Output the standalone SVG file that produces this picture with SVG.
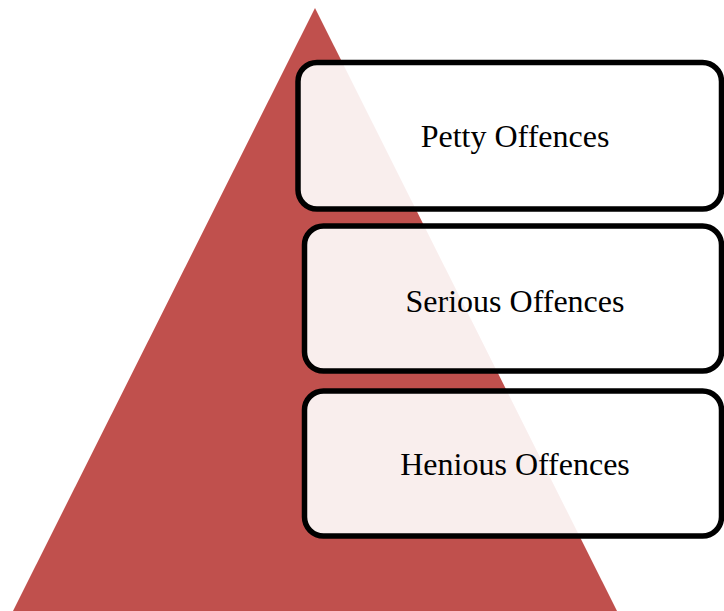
<svg xmlns="http://www.w3.org/2000/svg" width="724" height="611" viewBox="0 0 724 611">
<style>
.box{fill:#ffffff;fill-opacity:0.9;stroke:#000;stroke-width:5.5}
.lbl{font-family:"Liberation Serif","Times New Roman",serif;font-size:32px;fill:#000;text-anchor:middle}
</style>
<rect width="724" height="611" fill="#ffffff"/>
<g id="pyramid"><polygon points="315,8 13,611 617,611" fill="#C0504D"/></g>
<g id="connectors"></g>
<g id="petty">
<rect class="box" x="298" y="62.5" width="423.5" height="146.5" rx="19" ry="19"/>
<text class="lbl" x="515" y="147">Petty Offences</text>
</g>
<g id="serious">
<rect class="box" x="304.5" y="226" width="417" height="145" rx="19" ry="19"/>
<text class="lbl" x="515" y="312">Serious Offences</text>
</g>
<g id="henious">
<rect class="box" x="304.5" y="391" width="417" height="145" rx="19" ry="19"/>
<text class="lbl" x="515" y="475">Henious Offences</text>
</g>
</svg>
